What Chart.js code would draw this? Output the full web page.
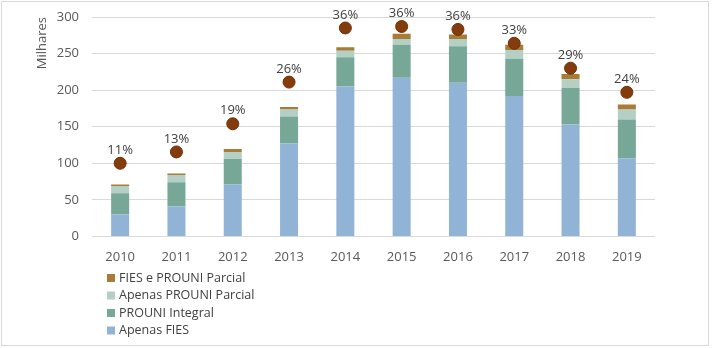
<!DOCTYPE html>
<html>
<head>
<meta charset="utf-8">
<script src="https://cdn.jsdelivr.net/npm/chart.js@4/dist/chart.umd.min.js"></script>
<style>
  html, body { margin: 0; padding: 0; background: #fff; }
  #wrap { width: 713px; height: 348px; position: relative; }
</style>
</head>
<body>
<div id="wrap"><canvas id="chart" width="713" height="348"></canvas></div>
<script>
const years = ["2010", "2011", "2012", "2013", "2014", "2015", "2016", "2017", "2018", "2019"];
const apenasFies = [30, 41, 71, 127, 205, 217, 210, 192, 153, 107];
const prouniIntegral = [29, 33, 35, 37, 40, 45, 50, 51, 50, 53];
const apenasProuniParcial = [10, 10, 9.5, 9.5, 9, 8, 10, 12, 12, 13.5];
const fiesProuniParcial = [2, 2, 4, 3.5, 4.5, 7, 6, 7, 7, 7];
const shareValues = [100, 115.5, 154, 211, 285, 287, 283, 264, 230, 197]; // dots
const shareLabels = ["11%", "13%", "19%", "26%", "36%", "36%", "36%", "33%", "29%", "24%"];

const FONT = "'Open Sans', sans-serif";

// draws percentage labels, the vertical legend and the outer frame
const extras = {
  id: "extras",
  afterDatasetsDraw(chart) {
    const ctx = chart.ctx;
    const meta = chart.getDatasetMeta(4);
    ctx.save();
    ctx.font = "13px " + FONT;
    ctx.fillStyle = "#404040";
    ctx.textAlign = "center";
    ctx.textBaseline = "middle";
    meta.data.forEach((pt, i) => {
      ctx.fillText(shareLabels[i], pt.x, pt.y - 13);
    });
    ctx.restore();
  },
  afterDraw(chart) {
    const ctx = chart.ctx;
    ctx.save();
    // legend, top item is last stacked series
    const items = chart.data.datasets.slice(0, 4).reverse();
    ctx.font = "12.5px " + FONT;
    ctx.textBaseline = "middle";
    items.forEach((ds, i) => {
      const y = 278 + i * 17.5;
      ctx.fillStyle = ds.backgroundColor;
      ctx.fillRect(107, y - 4, 8, 8);
      ctx.fillStyle = "#404040";
      ctx.fillText(ds.label, 119, y);
    });
    ctx.strokeStyle = "#d9d9d9";
    ctx.lineWidth = 1;
    ctx.strokeRect(1.5, 1.5, 707, 344);
    ctx.restore();
  }
};

new Chart("chart", {
  data: {
    labels: years,
    datasets: [
      { type: "bar", label: "Apenas FIES", data: apenasFies, backgroundColor: "#91b3d6", stack: "s", order: 2 },
      { type: "bar", label: "PROUNI Integral", data: prouniIntegral, backgroundColor: "#76a797", stack: "s", order: 2 },
      { type: "bar", label: "Apenas PROUNI Parcial", data: apenasProuniParcial, backgroundColor: "#b4cfc4", stack: "s", order: 2 },
      { type: "bar", label: "FIES e PROUNI Parcial", data: fiesProuniParcial, backgroundColor: "#a67c36", stack: "s", order: 2 },
      {
        type: "line", label: "share", data: shareValues, showLine: false,
        pointRadius: 6, pointHoverRadius: 6, pointBackgroundColor: "#843c0c",
        pointBorderColor: "#6e300a", pointBorderWidth: 1, order: 1
      }
    ]
  },
  options: {
    responsive: false,
    animation: false,
    layout: { padding: { top: 17, right: 58, bottom: 70, left: 34 } },
    datasets: { bar: { barPercentage: 0.8, categoryPercentage: 0.4 } },
    plugins: {
      legend: { display: false },
      tooltip: { enabled: false }
    },
    scales: {
      x: {
        stacked: true,
        grid: { display: false, drawTicks: false },
        border: { display: false },
        ticks: { color: "#595959", font: { family: FONT, size: 13 }, padding: 13 }
      },
      y: {
        stacked: true,
        min: 0, max: 300,
        afterFit: (scale) => { scale.width = 58; scale.paddingTop = 0; scale.paddingBottom = 0; },
        ticks: { stepSize: 50, color: "#595959", font: { family: FONT, size: 13 }, padding: 13 },
        grid: { color: "#d9d9d9", drawTicks: false },
        border: { display: false },
        title: {
          display: true, text: "Milhares", align: "end",
          color: "#595959", font: { family: FONT, size: 13 }, padding: { top: 0, bottom: 0 }
        }
      }
    }
  },
  plugins: [extras]
});
</script>
</body>
</html>
